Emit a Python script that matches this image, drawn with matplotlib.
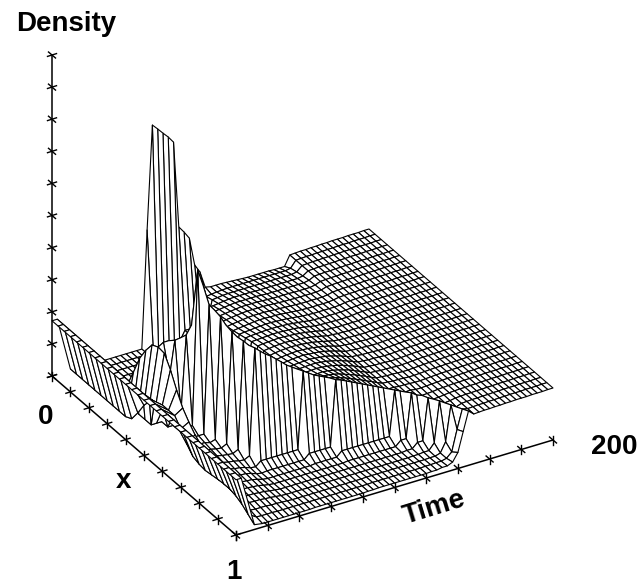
import matplotlib
matplotlib.use('Agg')
import matplotlib.pyplot as plt
from matplotlib.collections import PolyCollection
import numpy as np

plt.rcParams['font.family'] = ['Liberation Sans', 'DejaVu Sans']

# density, in thousandths of the density axis
# one row per time step (0 to 200), one column per x node (0 to 1)
density_rows = [
    [172]*31,
    [172]*31,
    [5]*10+[15,50,90,120,130,140,140,140,115,84,62,55,52,55,58,60,60,55,45,30,15],
    [0]*7+[30,80,137,196,237,270,280,277,242,196,156,129,106,90,70,52,42,36,32,28,24,20,15,11],
    [0]*12+[150,290,200,120,80,55,50,48,46,42,38,34,30,27,24,22,18,14,11],
    [0]*12+[60,290,308,100,70,55,50,48,46,42,36,30,27,25,23,21,18,14,11],
    [0]*13+[60,310,336,70,55,50,46,42,38,34,30,27,25,23,21,18,14,11],
    [0]*14+[60,362,550,55,45,42,38,34,30,27,25,23,21,19,16,13,11],
    [0]*15+[60,498,453,50,40,36,32,28,26,24,22,20,18,16,13,11],
    [0]*16+[60,432,427,48,34,28,24,22,20,18,17,16,15,13,11],
    [0]*17+[60,397,392,42,26,18,16,15,15,15,14,14,13,11],
    [0]*18+[60,371,375,34,16,13,13,13,13,13,13,13,11],
    [0]*19+[60,357,365,30,15,13,13,13,13,13,13,11],
    [0]*20+[200,350,30,15,13,13,13,13,13,13,12],
    [0]*20+[150,336,30,15,13,13,13,13,13,13,12],
    [0]*20+[120,325,30,15,13,13,13,13,13,13,12],
    [366,10]+[0]*18+[110,311,30,15,13,13,13,13,13,13,12],
    [688,10]+[0]*18+[100,297,30,15,13,13,13,13,13,13,12],
    [671,10]+[0]*18+[100,282,30,15,13,13,13,13,13,13,12],
    [653,10]+[0]*18+[100,271,30,15,13,13,13,13,13,13,12],
    [636,10]+[0]*18+[100,260,270,30,15,13,13,13,13,13,12],
    [615,10]+[0]*18+[80,150,259,30,15,13,13,13,13,13,12],
    [346]+[40]*19+[80,130,248,30,15,13,13,13,13,13,12],
    [325,40,60,130,135,138,142,146,150,155,160,165,168,170,172,175,180,185,190,195,200,215,240,30,15,13,13,13,13,13,13],
    [301,40,60,133,138,142,146,149,152,157,162,166,170,172,175,178,182,187,192,197,203,212,232,30,15,13,13,13,13,13,13],
    [213,40,60,135,140,144,148,151,154,158,163,167,171,174,177,180,184,188,193,198,204,214,224,235,30,15,13,13,14,14,14],
    [186,126,132,137,142,146,150,153,156,160,164,168,172,175,178,181,185,189,194,199,205,212,220,229,30,15,13,13,14,14,14],
    [134,128,134,139,144,148,152,155,158,161,165,169,173,176,179,182,186,190,194,198,203,209,215,221,30,15,13,13,14,14,14],
    [130,130,136,141,146,150,153,156,159,162,165,169,172,175,178,181,184,188,192,196,200,205,209,213,30,15,13,13,14,14,14],
    [130,131,137,142,146,150,153,156,159,162,165,168,171,174,177,180,183,186,190,193,196,199,202,205,30,15,13,13,14,14,14],
    [130,132,137,142,146,150,153,156,158,161,164,167,170,173,175,178,181,184,186,189,191,193,195,197,30,15,13,13,14,14,14],
    [129,132,137,142,146,150,153,155,158,160,163,166,168,171,173,175,178,180,182,184,186,187,188,189,30,15,13,13,14,14,14],
    [128,132,137,142,146,149,152,154,157,159,161,164,166,168,170,172,174,175,177,178,179,180,180,181,30,15,13,13,14,14,14],
    [127,132,137,141,145,148,151,153,155,157,159,161,163,165,166,168,169,170,171,172,172,173,173,173,30,15,13,13,14,14,14],
    [126,132,137,141,144,147,150,152,154,155,157,158,160,161,162,163,164,164,165,165,165,165,165,165,30,15,13,13,14,14,14],
    [125,132,137,141,144,147,149,151,152,153,154,155,156,157,158,158,158,158,158,158,158,158,158,157,170,30,15,14,14,15,15],
    [125,132,137,141,144,147,149,150,151,152,153,154,155,156,156,157,157,157,157,157,157,157,157,157,162,30,15,14,14,15,15],
    [125,132,137,141,144,147,148,149,150,151,152,153,154,154,155,155,155,155,155,155,155,155,155,155,154,168,30,16,15,16,18],
    [125,132,137,141,144,146,148,149,150,151,152,153,153,154,154,155,155,155,155,155,155,155,155,155,155,156,30,16,15,16,18],
    [125,132,137,141,144,146,148,149,150,151,152,152,153,153,154,154,154,154,154,154,154,154,154,154,152,150,159,35,20,20,25],
    [124,132,137,141,144,146,148,149,150,151,152,152,153,153,153,153,153,153,153,153,153,153,153,153,152,151,150,161,50,35,50],
    [124,132,137,141,144,146,148,149,150,151,152,152,153,153,153,153,153,153,153,153,153,153,153,153,153,152,151,150,160,100,110],
    [124,135,140,144,147,149,150,151,152,152,153,153,153,153,154,154,154,154,154,154,154,154,154,154,154,154,153,152,149,159,169],
]
plateau_levels = [155,156,157,157,158,158,159,159,160,160,160,161,161,161,162,162]

first_times = [0, 3.33, 11.6]
x_ticks = np.arange(0, 1.01, 0.1)
time_ticks = np.arange(0, 201, 20)
density_ticks = np.arange(0, 1.01, 0.1)

# Montando a grade
for nivel in plateau_levels:
    density_rows.append([nivel]*31)
densidade = np.array(density_rows)/1000.0
x_nodes = np.linspace(0, 1, densidade.shape[1])
time_nodes = np.concatenate((first_times, np.linspace(16.67, 200, densidade.shape[0]-3)))

def tela(x, t, d):
    # projecao obliqua para as coordenadas do eixo
    px = 52 + 184*x + 317*np.asarray(t)/200.0
    py = 376 + 159*x - 95*np.asarray(t)/200.0 - 321*d
    return px, py

fig = plt.figure(figsize=(6.39, 5.86), dpi=100)
ax = fig.add_axes([0, 0, 1, 1])
ax.set_xlim(0, 639)
ax.set_ylim(586, 0)
ax.axis('off')

X, T = np.meshgrid(x_nodes, time_nodes)
PX, PY = tela(X, T, densidade)

# celulas de tras para frente, brancas, para esconder o que fica atras
celulas = []
for i in range(len(time_nodes)-2, -1, -1):
    for j in range(len(x_nodes)-1):
        celulas.append([(PX[i, j], PY[i, j]), (PX[i, j+1], PY[i, j+1]),
                        (PX[i+1, j+1], PY[i+1, j+1]), (PX[i+1, j], PY[i+1, j])])
malha = PolyCollection(celulas, facecolors='white', edgecolors='black',
                       linewidths=0.8, joinstyle='round', zorder=2)
ax.add_collection(malha)

# Eixos
lx, ly = tela(np.array([0, 0, 1, 1]), np.array([0, 0, 0, 200]), np.array([1, 0, 0, 0]))
ax.plot(lx, ly, color='k', lw=1.1, zorder=3)

def marca(px, py, dirs):
    for dx, dy in dirs:
        ax.plot([px-dx, px+dx], [py-dy, py+dy], color='k', lw=1.0, zorder=4)

dir_x = (3.5, 3.0)
dir_t = (4.5, -1.4)
dir_d = (0, 4.5)
for v in density_ticks:
    px, py = tela(0, 0, v)
    marca(px, py, [dir_x, dir_t])
for v in x_ticks:
    px, py = tela(v, 0, 0)
    marca(px, py, [dir_d, dir_t])
for v in time_ticks:
    px, py = tela(1, v, 0)
    marca(px, py, [dir_d, dir_x])

# Textos
fonte = dict(fontsize=20, fontweight='bold', ha='center', va='center', color='k')
ax.text(66, 24, 'Density', **fonte)
ax.text(46, 417, '0', **fonte)
ax.text(124, 481, 'x', **fonte)
ax.text(234, 572, '1', **fonte)
ax.text(614.5, 447, '200', **fonte)
ax.text(434, 508, 'Time', rotation=17, rotation_mode='anchor', **fonte)

fig.savefig('out.png', dpi=100, facecolor='white')
